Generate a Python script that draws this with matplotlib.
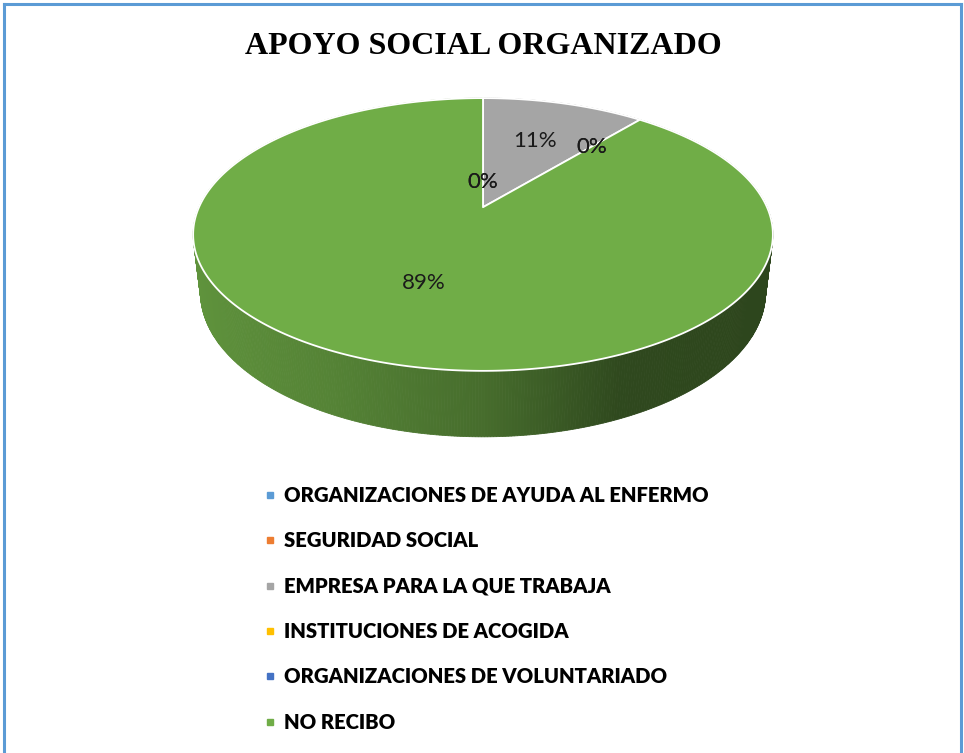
import numpy as np
import matplotlib.pyplot as plt
from matplotlib.patches import Polygon
from matplotlib.lines import Line2D
from matplotlib.colors import to_rgb

title = 'APOYO SOCIAL ORGANIZADO'
categories = ['ORGANIZACIONES DE AYUDA AL ENFERMO', 'SEGURIDAD SOCIAL',
              'EMPRESA PARA LA QUE TRABAJA', 'INSTITUCIONES DE ACOGIDA',
              'ORGANIZACIONES DE VOLUNTARIADO', 'NO RECIBO']
values = [0, 0, 11, 0, 0, 89]
colors = ['#5b9bd5', '#ed7d31', '#a5a5a5', '#ffc000', '#4472c4', '#70ad47']
label_r = [0.2, 0.2, 0.6, 0.66, 0.66, 0.55]   # radial spot of each data label

# 3D look (disk radius = 1 data unit)
K = 0.2        # foreshortening toward the back
TAPER = 0.025  # bottom face slightly farther away
TILT = 0.461   # vertical squash of the top face
DEPTH = 0.206  # wall height

# pixel layout: pie apex at (483, 207), 284 px per unit
W, H = 964, 753
CX, CY, SCALE = 483, 207.2, 284.0


def proj(theta, r=1.0, z=0.0):
    X = r * np.sin(theta)
    Y = r * np.cos(theta)
    p = 1.0 / (1 + K * Y + TAPER * z)
    return X * p, (TILT * Y - DEPTH * z) * p


def wall_shade(x):
    # light comes from the left, right side falls into shadow
    return np.interp(x, [-1.0, -0.45, 0.0, 0.4, 1.0], [0.86, 0.76, 0.63, 0.42, 0.40])


fig = plt.figure(figsize=(W / 100, H / 100), dpi=100)
ax = fig.add_axes([0, 0, 1, 1])
ax.set_xlim(-CX / SCALE, (W - CX) / SCALE)
ax.set_ylim((CY - H) / SCALE, CY / SCALE)
ax.axis('off')

total = sum(values)
bounds = np.concatenate([[0], np.cumsum(values)]) / total * 2 * np.pi

# side walls, back to front
segs = []
for i, c in enumerate(colors):
    a0, a1 = bounds[i], bounds[i + 1]
    if a1 <= a0:
        continue
    n = max(2, int((a1 - a0) / (2 * np.pi) * 720))
    t = np.linspace(a0, a1, n + 1)
    for t0, t1 in zip(t[:-1], t[1:]):
        segs.append((np.cos((t0 + t1) / 2), t0, t1, c))
segs.sort(key=lambda s: -s[0])
for _, t0, t1, c in segs:
    pts = [proj(t0), proj(t1), proj(t1, z=1), proj(t0, z=1)]
    xm = np.sin((t0 + t1) / 2)
    fc = np.array(to_rgb(c)) * wall_shade(xm)
    ax.add_patch(Polygon(pts, closed=True, facecolor=fc, edgecolor=fc,
                         linewidth=0.6, zorder=1))

# top faces
for i, c in enumerate(colors):
    a0, a1 = bounds[i], bounds[i + 1]
    if a1 <= a0:
        continue
    t = np.linspace(a0, a1, max(3, int((a1 - a0) / (2 * np.pi) * 720)))
    pts = [proj(0, r=0)] + [proj(tt) for tt in t]
    ax.add_patch(Polygon(pts, closed=True, facecolor=c, edgecolor='white',
                         linewidth=1.3, joinstyle='round', zorder=2))

# data labels
for i, v in enumerate(values):
    mid = (bounds[i] + bounds[i + 1]) / 2
    x, y = proj(mid, r=label_r[i])
    ax.text(x, y, f'{v / total * 100:.0f}%', ha='center', va='center',
            fontsize=16, family='Lato', color='#1a1a1a', zorder=3)

fig.text(483.5 / W, 1 - 46 / H, title, ha='center', va='center',
         family='Liberation Serif', fontweight='bold', fontsize=23)

handles = [Line2D([], [], marker='s', linestyle='none', color=c, markersize=5)
           for c in colors]
fig.legend(handles, categories, loc='upper left',
           bbox_to_anchor=(265 / W, 1 - 486 / H), frameon=False,
           prop={'family': 'Lato', 'weight': 'heavy', 'size': 14.6},
           handlelength=0.5, handletextpad=0.44, labelspacing=1.3,
           borderpad=0, borderaxespad=0)

# chart frame
blue = '#5b9bd5'
fig.add_artist(Line2D([4 / W, 4 / W], [0, 1 - 4 / H], color=blue, lw=2.2))
fig.add_artist(Line2D([4 / W, 961 / W], [1 - 4 / H, 1 - 4 / H], color=blue, lw=2.2))
fig.add_artist(Line2D([961 / W, 961 / W], [0, 1 - 4 / H], color=blue, lw=2.2))

fig.savefig('out.png', dpi=100)
